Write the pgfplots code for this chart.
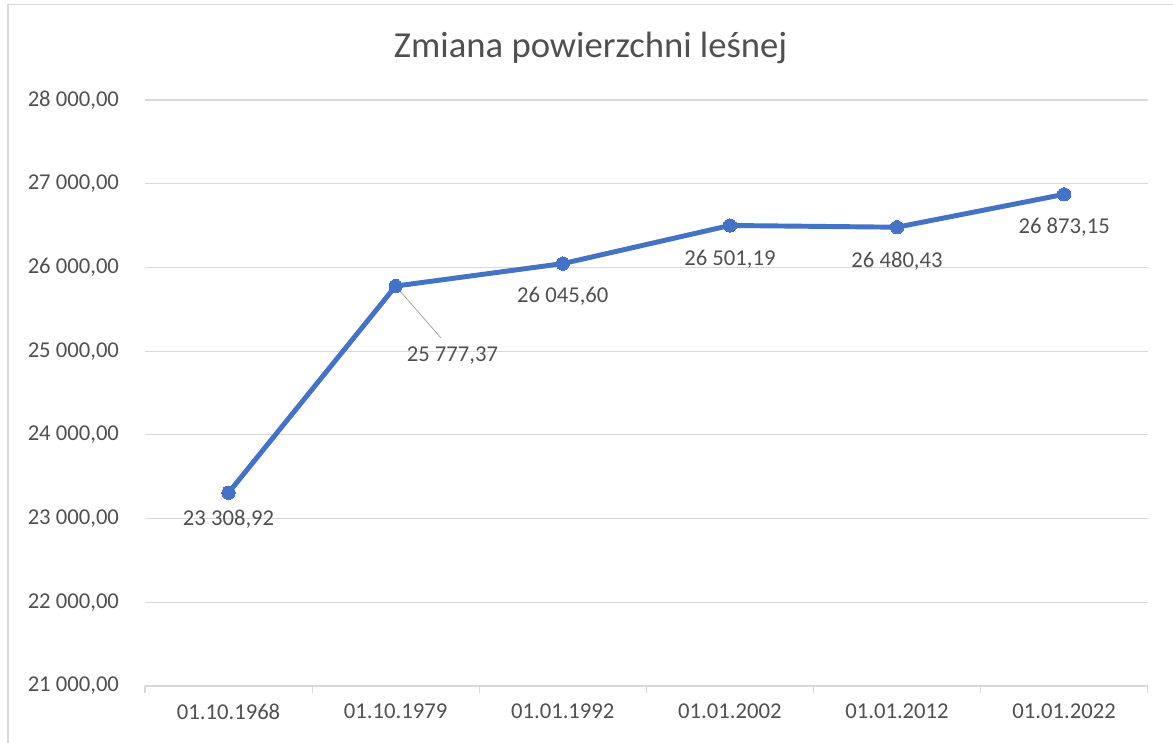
\documentclass[border=0pt]{standalone}
\usepackage{pgfplots}
\pgfplotsset{compat=1.18}
\usepackage{fontspec}
\setmainfont{Carlito}
\definecolor{linec}{HTML}{4472C4}
\definecolor{gridc}{HTML}{D9D9D9}
\definecolor{txtc}{HTML}{505050}
\begin{document}
\begin{tikzpicture}[x=1pt,y=1pt]
\useasboundingbox (0,0) rectangle (879.75,556.5);
\draw[gridc, line width=0.8pt] (6,-5) -- (6,553) -- (890,553);
\node[txtc, font=\fontsize{27.5}{32}\selectfont] at (443,520.5) {Zmiana powierzchni leśnej};
\begin{axis}[
  at={(108.75pt,42pt)}, anchor=south west,
  scale only axis, width=752pt, height=439.5pt,
  xmin=-0.5, xmax=5.5, ymin=21000, ymax=28000,
  ytick={21000,22000,...,28000},
  scaled y ticks=false,
  xtick={0,1,2,3,4,5},
  xticklabels={01.10.1968,01.10.1979,01.01.1992,01.01.2002,01.01.2012,01.01.2022},
  minor xtick={-0.5,0.5,1.5,2.5,3.5,4.5,5.5},
  major tick length=0pt,
  minor tick length=5pt,
  tick align=outside,
  minor tick style={gridc, line width=0.8pt},
  axis x line*=bottom, axis y line*=left,
  y axis line style={draw=none},
  x axis line style={gridc, line width=0.8pt, -},
  ymajorgrids, grid style={gridc, line width=0.8pt},
  tick label style={txtc, font=\fontsize{17}{20}\selectfont},
  yticklabel style={xshift=-16pt,
    /pgf/number format/fixed, /pgf/number format/fixed zerofill,
    /pgf/number format/precision=2, /pgf/number format/use comma,
    /pgf/number format/1000 sep={\ }},
  xticklabel style={yshift=-10pt},
  /pgf/number format/assume math mode=true,
  clip=false,
]
\addplot[linec, line width=3.7pt, mark=*, mark size=5pt, mark options={fill=linec, draw=linec, line width=0pt}]
coordinates {(0,23308.92) (1,25777.37) (2,26045.60) (3,26501.19) (4,26480.43) (5,26873.15)};
\draw[gray!70, line width=0.6pt] (axis cs:1,25777.37) -- (axis cs:1.27,25160);
\begin{scope}[every node/.style={txtc, font=\fontsize{17}{20}\selectfont}]
\node at (axis cs:0,22990) {23 308,92};
\node at (axis cs:1.34,24950) {25 777,37};
\node at (axis cs:2.0,25660) {26 045,60};
\node at (axis cs:3,26100) {26 501,19};
\node at (axis cs:4,26080) {26 480,43};
\node at (axis cs:5,26480) {26 873,15};
\end{scope}
\end{axis}
\end{tikzpicture}
\end{document}
